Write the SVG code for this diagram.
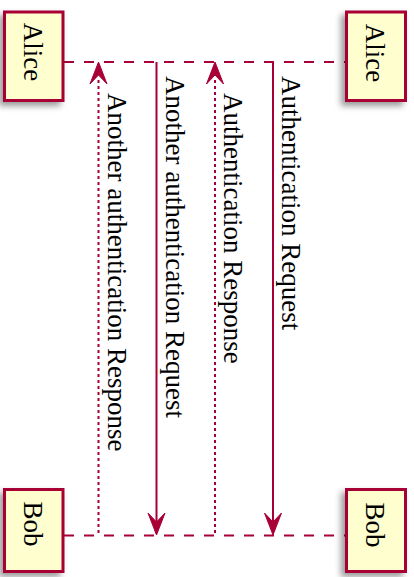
<svg xmlns="http://www.w3.org/2000/svg" width="414" height="577" viewBox="0 0 414 577">
<style>
.box{fill:#FEFECE;stroke:#A80036;stroke-width:3;filter:url(#sh)}
.life{stroke:#A80036;stroke-width:2;stroke-dasharray:10,10;fill:none}
.msg{stroke:#A80036;stroke-width:2;fill:none}
.dot{stroke:#A80036;stroke-width:2;stroke-dasharray:3,3;fill:none}
.head{fill:#A80036;stroke:#A80036;stroke-width:1}
text{font-family:"Liberation Serif","Times New Roman",serif;font-size:27px;fill:#000}
.pt{text-anchor:middle}
</style>
<defs>
<filter id="sh" x="-30%" y="-30%" width="160%" height="160%">
<feDropShadow dx="-4" dy="4" stdDeviation="3" flood-color="#000" flood-opacity="0.4"/>
</filter>
</defs>
<g id="connectors">
<line class="life" x1="64" y1="62" x2="345" y2="62"/>
<line class="life" x1="64" y1="535.5" x2="345" y2="535.5"/>
<line class="msg" x1="273" y1="62" x2="273" y2="528"/>
<polygon class="head" points="273,535 264.5,513 273,522 281.5,513"/>
<text transform="translate(282,76) rotate(90)">Authentication Request</text>
<line class="dot" x1="215" y1="80" x2="215" y2="535"/>
<polygon class="head" points="215,62 206.5,84 215,75 223.5,84"/>
<text transform="translate(224,93) rotate(90)">Authentication Response</text>
<line class="msg" x1="156.5" y1="62" x2="156.5" y2="528"/>
<polygon class="head" points="156.5,535 148,513 156.5,522 165,513"/>
<text transform="translate(165.5,76) rotate(90)">Another authentication Request</text>
<line class="dot" x1="98.5" y1="80" x2="98.5" y2="535"/>
<polygon class="head" points="98.5,62 90,84 98.5,75 107,84"/>
<text transform="translate(107.5,93) rotate(90)">Another authentication Response</text>
</g>
<g id="alice-head">
<rect class="box" x="346.5" y="12" width="59" height="88.5"/>
<text class="pt" transform="translate(366,53) rotate(90)">Alice</text>
</g>
<g id="alice-foot">
<rect class="box" x="4.5" y="12" width="58.5" height="88.5"/>
<text class="pt" transform="translate(24,52) rotate(90)">Alice</text>
</g>
<g id="bob-head">
<rect class="box" x="346.5" y="489.5" width="59" height="82"/>
<text class="pt" transform="translate(366,525) rotate(90)">Bob</text>
</g>
<g id="bob-foot">
<rect class="box" x="4.5" y="489.5" width="58.5" height="82"/>
<text class="pt" transform="translate(24,524) rotate(90)">Bob</text>
</g>
</svg>
